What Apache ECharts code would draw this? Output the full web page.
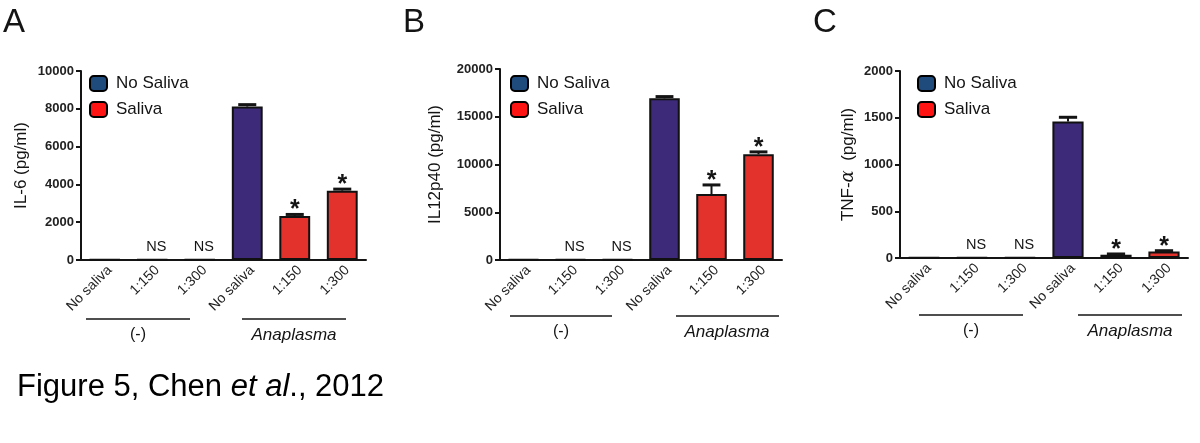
<!DOCTYPE html>
<html><head><meta charset="utf-8">
<script src="https://cdn.jsdelivr.net/npm/echarts@6/dist/echarts.min.js"></script>
<style>html,body{margin:0;padding:0;background:#fff}#c{width:1200px;height:443px}</style>
</head><body><div id="c"></div><script>
// ---- data ----
const categories = ['No saliva', '1:150', '1:300', 'No saliva', '1:150', '1:300'];
const salivaFlags = [false, true, true, false, true, true];
const groupLabels = ['(-)', 'Anaplasma'];

const il6Values = [20, 20, 20, 8120, 2330, 3670];
const il6Errors = [0, 0, 0, 100, 80, 80];
const il6Marks = ['', 'NS', 'NS', '', '*', '*'];
const il6Ticks = { min: 0, max: 10000, interval: 2000 };

const il12Values = [50, 60, 60, 16930, 6910, 11070];
const il12Errors = [0, 0, 0, 180, 950, 250];
const il12Marks = ['', 'NS', 'NS', '', '*', '*'];
const il12Ticks = { min: 0, max: 20000, interval: 5000 };

const tnfValues = [5, 8, 8, 1460, 35, 70];
const tnfErrors = [0, 0, 0, 45, 8, 8];
const tnfMarks = ['', 'NS', 'NS', '', '*', '*'];
const tnfTicks = { min: 0, max: 2000, interval: 500 };

const seriesNames = ['No Saliva', 'Saliva'];
// ---- style ----
const FONT = '"Liberation Sans", Arial, Helvetica, sans-serif';
const PURPLE = '#3d2a78', RED = '#e3322c';
const LEG_NAVY = '#1f4a7c', LEG_RED = '#ff1414';
const INK = '#141414';

const panels = [
  { values: il6Values, errors: il6Errors, marks: il6Marks, ticks: il6Ticks,
    yName: 'IL-6 (pg/ml)', nameGap: 51,
    grid: { left: 81, top: 71, width: 285, height: 189 }, legend: { left: 89, top: 75 } },
  { values: il12Values, errors: il12Errors, marks: il12Marks, ticks: il12Ticks,
    yName: 'IL12p40 (pg/ml)', nameGap: 56,
    grid: { left: 500, top: 69, width: 282, height: 191 }, legend: { left: 510, top: 75 } },
  { values: tnfValues, errors: tnfErrors, marks: tnfMarks, ticks: tnfTicks,
    yName: '{n|TNF-}{g|α}{n|  (pg/ml)}', nameGap: 43,
    grid: { left: 900, top: 71, width: 288, height: 187 }, legend: { left: 917, top: 75 } }
];

function makeAnno(vals, errs, marks) {
  return function (params, api) {
    const i = params.dataIndex;
    const v = vals[i], e = errs[i], s = marks[i];
    const bw = api.size([1, 0])[0];
    const base = api.coord([i, v]);
    const top = api.coord([i, v + e]);
    const children = [];
    if (e > 0) {
      const cw = bw * 0.38;
      children.push({ type: 'line', shape: { x1: base[0], y1: base[1], x2: top[0], y2: top[1] },
        style: { stroke: INK, lineWidth: 2 } });
      children.push({ type: 'line', shape: { x1: top[0] - cw / 2, y1: top[1], x2: top[0] + cw / 2, y2: top[1] },
        style: { stroke: INK, lineWidth: 3 } });
    }
    if (s === '*') {
      children.push({ type: 'text', x: top[0], y: top[1] - 4,
        style: { text: '*', fontSize: 25, fontWeight: 'bold', fontFamily: FONT, fill: INK, align: 'center', verticalAlign: 'middle' } });
    } else if (s) {
      children.push({ type: 'text', x: base[0] + 4, y: base[1] - 5,
        style: { text: s, fontSize: 14.5, fontFamily: FONT, fill: INK, align: 'center', verticalAlign: 'bottom' } });
    }
    return { type: 'group', children };
  };
}

const option = {
  animation: false,
  backgroundColor: '#fff',
  textStyle: { fontFamily: FONT },
  grid: panels.map(p => Object.assign({ containLabel: false }, p.grid)),
  legend: panels.map(p => ({
    orient: 'vertical', left: p.legend.left, top: p.legend.top, padding: 0,
    itemWidth: 17, itemHeight: 15, itemGap: 9, icon: 'roundRect',
    textStyle: { fontSize: 17, color: INK, fontFamily: FONT, padding: [0, 0, 0, 4] },
    selectedMode: false,
    data: [
      { name: seriesNames[0], itemStyle: { color: LEG_NAVY, borderColor: '#000', borderWidth: 2 } },
      { name: seriesNames[1], itemStyle: { color: LEG_RED, borderColor: '#000', borderWidth: 2 } }
    ]
  })),
  xAxis: panels.map((p, k) => ({
    type: 'category', gridIndex: k, data: categories,
    axisLine: { lineStyle: { color: INK, width: 2 } },
    axisTick: { show: false },
    axisLabel: { rotate: 45, fontSize: 14, color: '#222', margin: 3, interval: 0, fontFamily: FONT,
      verticalAlign: 'top' }
  })),
  yAxis: panels.map((p, k) => ({
    type: 'value', gridIndex: k, min: p.ticks.min, max: p.ticks.max, interval: p.ticks.interval,
    name: p.yName, nameLocation: 'middle', nameGap: p.nameGap, nameRotate: 90,
    nameTextStyle: { fontSize: 17, color: INK, fontFamily: FONT,
      rich: { n: { fontSize: 17, color: INK, fontFamily: FONT },
              g: { fontSize: 18, color: INK, fontFamily: '"DejaVu Serif", serif', fontStyle: 'italic' } } },
    splitLine: { show: false },
    axisLine: { show: true, lineStyle: { color: INK, width: 2 } },
    axisTick: { show: true, length: 5, lineStyle: { color: INK, width: 2 } },
    axisLabel: { fontSize: 13, fontWeight: 'bold', color: '#222', margin: 7, fontFamily: FONT,
      formatter: v => String(v) }
  })),
  series: [].concat(...panels.map((p, k) => [
    { name: seriesNames[0], type: 'bar', xAxisIndex: k, yAxisIndex: k,
      data: p.values.map((v, i) => salivaFlags[i] ? '-' : v),
      barWidth: '65%', barGap: '-100%',
      itemStyle: { color: PURPLE, borderColor: '#111', borderWidth: 2 } },
    { name: seriesNames[1], type: 'bar', xAxisIndex: k, yAxisIndex: k,
      data: p.values.map((v, i) => salivaFlags[i] ? v : '-'),
      barWidth: '65%', barGap: '-100%',
      itemStyle: { color: RED, borderColor: '#111', borderWidth: 2 } },
    { type: 'custom', xAxisIndex: k, yAxisIndex: k, z: 5,
      data: p.values.map((v, i) => [i, v]),
      renderItem: makeAnno(p.values, p.errors, p.marks) }
  ])),
  graphic: [
    { type: 'text', x: 3, y: 23, style: { text: 'A', fontSize: 33, fontFamily: FONT, fill: INK, verticalAlign: 'middle' } },
    { type: 'text', x: 403, y: 23, style: { text: 'B', fontSize: 33, fontFamily: FONT, fill: INK, verticalAlign: 'middle' } },
    { type: 'text', x: 813, y: 23, style: { text: 'C', fontSize: 33, fontFamily: FONT, fill: INK, verticalAlign: 'middle' } },
    // group underlines
    { type: 'line', shape: { x1: 86, y1: 319, x2: 190, y2: 319 }, style: { stroke: INK, lineWidth: 1.5 } },
    { type: 'line', shape: { x1: 242, y1: 319, x2: 346, y2: 319 }, style: { stroke: INK, lineWidth: 1.5 } },
    { type: 'line', shape: { x1: 510, y1: 316, x2: 612, y2: 316 }, style: { stroke: INK, lineWidth: 1.5 } },
    { type: 'line', shape: { x1: 676, y1: 316, x2: 779, y2: 316 }, style: { stroke: INK, lineWidth: 1.5 } },
    { type: 'line', shape: { x1: 919, y1: 315, x2: 1023, y2: 315 }, style: { stroke: INK, lineWidth: 1.5 } },
    { type: 'line', shape: { x1: 1078, y1: 315, x2: 1182, y2: 315 }, style: { stroke: INK, lineWidth: 1.5 } },
    { type: 'text', x: 138, y: 335, style: { text: groupLabels[0], fontSize: 16, fontFamily: FONT, fill: INK, align: 'center', verticalAlign: 'middle' } },
    { type: 'text', x: 294, y: 335, style: { text: groupLabels[1], fontSize: 17, fontStyle: 'italic', fontFamily: FONT, fill: INK, align: 'center', verticalAlign: 'middle' } },
    { type: 'text', x: 561, y: 332, style: { text: groupLabels[0], fontSize: 16, fontFamily: FONT, fill: INK, align: 'center', verticalAlign: 'middle' } },
    { type: 'text', x: 727, y: 332, style: { text: groupLabels[1], fontSize: 17, fontStyle: 'italic', fontFamily: FONT, fill: INK, align: 'center', verticalAlign: 'middle' } },
    { type: 'text', x: 971, y: 331, style: { text: groupLabels[0], fontSize: 16, fontFamily: FONT, fill: INK, align: 'center', verticalAlign: 'middle' } },
    { type: 'text', x: 1130, y: 331, style: { text: groupLabels[1], fontSize: 17, fontStyle: 'italic', fontFamily: FONT, fill: INK, align: 'center', verticalAlign: 'middle' } },
    { type: 'text', x: 17, y: 387, style: { text: 'Figure 5, Chen {i|et al}., 2012', fontSize: 31, fontFamily: FONT, fill: '#000', verticalAlign: 'middle',
      rich: { i: { fontSize: 31, fontStyle: 'italic', fontFamily: FONT, fill: '#000' } } } }
  ]
};
const chart = echarts.init(document.getElementById('c'), null, { renderer: 'canvas' });
chart.setOption(option);
</script></body></html>
